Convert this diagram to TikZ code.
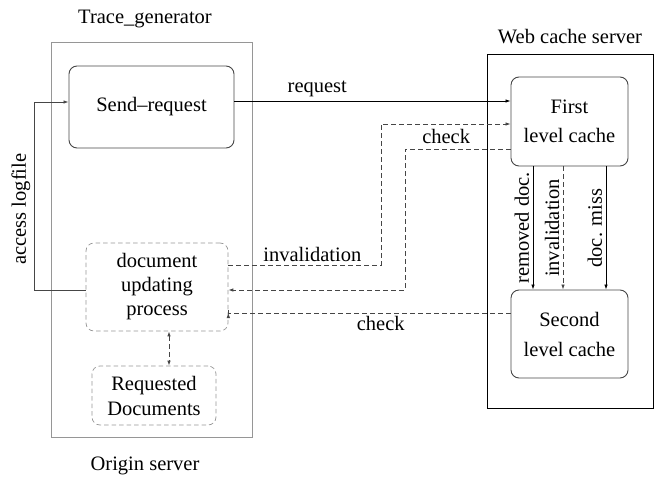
\documentclass[tikz,border=0pt]{standalone}
\usepackage{fontspec}
\setmainfont{Liberation Serif}
\usepackage{xcolor}
\usepackage{tikz}
\usetikzlibrary{positioning,arrows.meta}
\definecolor{framegray}{RGB}{150,150,150}
\definecolor{linegray}{RGB}{70,70,70}

\begin{document}
\begin{tikzpicture}[x=1pt, y=-1pt,
      font=\fontsize{20.5}{24}\selectfont,
      frame/.style={draw, minimum width=#1, inner sep=0pt},
      cachebox/.style={draw=linegray, line width=0.9pt, rounded corners=8pt,
                  minimum width=117pt, minimum height=89pt, align=center,
                  font=\fontsize{20.5}{29}\selectfont},
      procbox/.style={draw=framegray, line width=0.7pt, dash pattern=on 4.5pt off 3pt,
                  rounded corners=8pt, align=center},
      arr/.style={-{Latex[length=5pt,width=3.5pt]}, line width=0.8pt},
      dashline/.style={dash pattern=on 5pt off 3pt, draw=linegray}]
    \useasboundingbox (0,0) rectangle (655,476);
    % servers
    \node[frame=201pt, draw=framegray, line width=0.7pt, minimum height=395pt] (origin) at (151.5,239.5) {};
    \node[frame=166pt, line width=0.9pt, minimum height=354pt] (web) at (570,231) {};
    \node (tgname) at (145,19) {Trace\_generator};
    \node (osname) at (145,466) {Origin server};
    \node (wcname) at (570,37) {Web cache server};
    % boxes
    \node[draw=linegray, line width=0.9pt, rounded corners=8pt,
          minimum width=165pt, minimum height=82pt] (send) at (151.5,107) {Send--request};
    \node[procbox, minimum width=142pt, minimum height=88pt] (proc) at (157,287)
         {document\\updating\\process};
    \node[procbox, minimum width=124pt, minimum height=59pt,
          font=\fontsize{20.5}{25}\selectfont] (reqdoc) at (154,395.5) {Requested\\Documents};
    \node[cachebox] (first) at (569.5,121.5) {First\\level cache};
    \node[cachebox, minimum height=88pt,
          font=\fontsize{20.5}{30}\selectfont] (second) at (569.5,334) {Second\\level cache};
    % helper points
    \coordinate (rq) at ([yshift=6pt]send.east);
    \coordinate (lg) at ([yshift=5pt]send.west);
    \coordinate (lgx) at (34,0);
    \coordinate (pa) at ([yshift=-3pt]proc.west);
    \coordinate (inv) at ([yshift=22pt]proc.east);
    \coordinate (invx) at (381,0);
    \coordinate (fa) at ([yshift=-2.5pt]first.west);
    \coordinate (fb) at ([yshift=-27.5pt]first.west);
    \coordinate (chx) at (405,0);
    \coordinate (pb) at ([yshift=-3pt]proc.east);
    \coordinate (pc) at ([yshift=-26pt]proc.east);
    \coordinate (sc) at ([yshift=21pt]second.west);
    % connectors
    \draw[arr] (rq) -- node[pos=0.3, above] {request} (rq -| first.west);
    \draw[arr, draw=linegray] (pa) -- (lgx |- pa)
        -- node[pos=0.43, sloped, above] {access logfile} (lgx |- lg) -- (lg);
    \draw[arr, dashline] (inv) -- node[pos=0.55, above] {invalidation} (invx |- inv)
        -- (invx |- fa) -- (fa);
    \draw[arr, dashline] (fb) -- node[pos=0.61, above, yshift=2pt] {check} (chx |- fb)
        -- (chx |- pb) -- (pb);
    \draw[arr, dashline] (sc) -- node[pos=0.46, below] {check} (sc -| pc) -- (pc);
    \draw[{Latex[length=5pt,width=3.5pt]}-{Latex[length=5pt,width=3.5pt]}, dashline, line width=0.8pt]
        ([xshift=12pt]proc.south) -- ([xshift=12pt]proc.south |- reqdoc.north);
    \draw[arr] ([xshift=-36.5pt]first.south) --
        node[midway, rotate=90, above] {removed doc.} ([xshift=-36.5pt]second.north);
    \draw[arr, dashline] ([xshift=-6.5pt]first.south) --
        node[midway, rotate=90, above] {invalidation} ([xshift=-6.5pt]second.north);
    \draw[arr] ([xshift=36.5pt]first.south) --
        node[midway, rotate=90, above] {doc. miss} ([xshift=36.5pt]second.north);
  \end{tikzpicture}
\end{document}
